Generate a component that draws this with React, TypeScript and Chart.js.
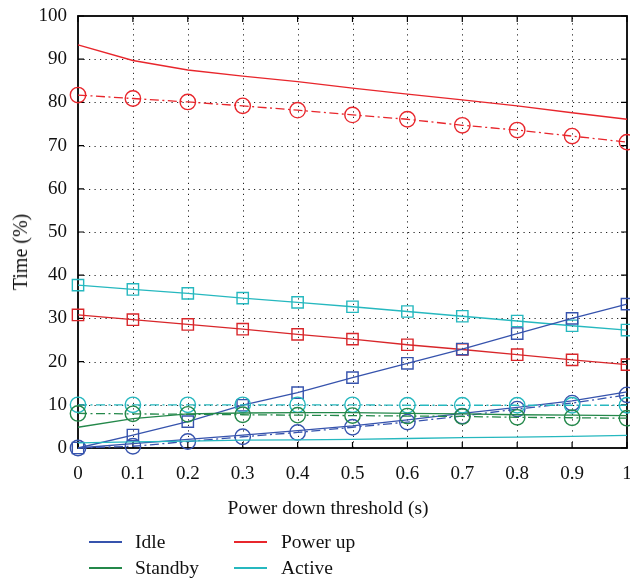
import React, { useEffect, useRef } from "react";
import { Chart, registerables } from "chart.js";

Chart.register(...registerables);

const thresholds = [0, 0.1, 0.2, 0.3, 0.4, 0.5, 0.6, 0.7, 0.8, 0.9, 1];
const xTickLabels = ["0", "0.1", "0.2", "0.3", "0.4", "0.5", "0.6", "0.7", "0.8", "0.9", "1"];
const yTickLabels = ["0", "10", "20", "30", "40", "50", "60", "70", "80", "90", "100"];

const idleSquares = [0, 3.0, 6.1, 9.9, 12.8, 16.3, 19.6, 22.9, 26.5, 30.0, 33.3];
const idleLine = [0, 1.0, 2.0, 3.0, 4.0, 5.1, 6.5, 8.0, 9.4, 10.9, 13.0];
const idleCircles = [0, 0.4, 1.5, 2.6, 3.6, 4.8, 6.0, 7.4, 9.0, 10.4, 12.3];

const standbyLine = [4.8, 6.8, 7.9, 8.1, 8.2, 8.2, 8.0, 7.9, 7.7, 7.6, 7.5];
const standbyCircles = [8.0, 7.9, 7.8, 7.7, 7.6, 7.5, 7.4, 7.3, 7.1, 7.0, 6.9];

const powerLine = [93.3, 89.7, 87.5, 86.1, 84.8, 83.3, 81.9, 80.6, 79.2, 77.6, 76.1];
const powerCircles = [81.7, 80.9, 80.1, 79.2, 78.2, 77.1, 76.1, 74.7, 73.6, 72.2, 70.8];
const powerSquares = [30.8, 29.7, 28.6, 27.5, 26.3, 25.2, 23.9, 22.8, 21.6, 20.4, 19.3];

const activeSquares = [37.7, 36.7, 35.8, 34.7, 33.7, 32.7, 31.6, 30.5, 29.4, 28.3, 27.3];
const activeLine = [1.2, 1.4, 1.6, 1.8, 1.9, 2.0, 2.2, 2.4, 2.5, 2.7, 2.9];
const activeCircles = [10, 10, 10, 10, 10, 10, 9.9, 9.9, 9.9, 9.9, 9.9];

const legendNames = ["Idle", "Power up", "Standby", "Active"];

const BLUE = "#3653ad";
const GREEN = "#24884a";
const RED = "#e8262c";
const RED_DARK = "#d8262a";
const CYAN = "#26b8bf";
const FONT = "'Liberation Serif', 'DejaVu Serif', serif";
const DASHDOT = [9, 3.5, 2, 3.5];

const pts = (arr: number[]) => thresholds.map((x, i) => ({ x, y: arr[i] }));

function ds(data: number[], color: string, style: string | false, dash: number[]) {
  return {
    data: pts(data),
    borderColor: color,
    backgroundColor: "transparent",
    borderWidth: 1.3,
    borderDash: dash,
    pointStyle: style || "circle",
    pointRadius: style ? (style === "rect" ? 8 : 7.7) : 0,
    pointBorderWidth: 1.4,
    pointBorderColor: color,
    pointBackgroundColor: "transparent",
    tension: 0,
    clip: false as any,
  };
}

const framePlugin = {
  id: "frame",
  beforeDatasetsDraw(chart: any) {
    const { ctx, chartArea: a, scales } = chart;
    const xs = scales.x;
    const ys = scales.y;
    ctx.save();
    ctx.strokeStyle = "#222";
    ctx.lineWidth = 1;
    ctx.setLineDash([1.2, 4.3]);
    thresholds.forEach((v, i) => {
      if (i === 0 || i === thresholds.length - 1) return;
      const px = Math.round(xs.getPixelForValue(v)) + 0.5;
      ctx.beginPath();
      ctx.moveTo(px, a.bottom);
      ctx.lineTo(px, a.top);
      ctx.stroke();
    });
    yTickLabels.forEach((l, i) => {
      if (i === 0 || i === yTickLabels.length - 1) return;
      const py = Math.round(ys.getPixelForValue(Number(l))) + 0.5;
      ctx.beginPath();
      ctx.moveTo(a.left, py);
      ctx.lineTo(a.right, py);
      ctx.stroke();
    });
    ctx.setLineDash([]);
    ctx.strokeStyle = "#000";
    ctx.lineWidth = 1.2;
    const t = 6;
    thresholds.forEach((v) => {
      const px = xs.getPixelForValue(v);
      ctx.beginPath();
      ctx.moveTo(px, a.bottom);
      ctx.lineTo(px, a.bottom - t);
      ctx.moveTo(px, a.top);
      ctx.lineTo(px, a.top + t);
      ctx.stroke();
    });
    yTickLabels.forEach((l) => {
      const py = ys.getPixelForValue(Number(l));
      ctx.beginPath();
      ctx.moveTo(a.left, py);
      ctx.lineTo(a.left + t, py);
      ctx.moveTo(a.right, py);
      ctx.lineTo(a.right - t, py);
      ctx.stroke();
    });
    ctx.lineWidth = 1.8;
    ctx.strokeRect(a.left, a.top, a.right - a.left, a.bottom - a.top);
    ctx.restore();
  },
};

export default function App() {
  const ref = useRef<HTMLCanvasElement>(null);
  useEffect(() => {
    if (!ref.current) return;
    const chart = new Chart(ref.current, {
      type: "line",
      data: {
        datasets: [
          ds(activeLine, CYAN, false, []),
          ds(standbyLine, GREEN, false, []),
          ds(standbyCircles, GREEN, "circle", DASHDOT),
          ds(activeCircles, CYAN, "circle", DASHDOT),
          ds(idleLine, BLUE, false, []),
          ds(idleCircles, BLUE, "circle", DASHDOT),
          ds(idleSquares, BLUE, "rect", []),
          ds(powerSquares, RED_DARK, "rect", []),
          ds(activeSquares, CYAN, "rect", []),
          ds(powerCircles, RED, "circle", DASHDOT),
          ds(powerLine, RED, false, []),
        ] as any,
      },
      options: {
        animation: false,
        responsive: false,
        maintainAspectRatio: false,
        layout: { autoPadding: false, padding: { top: 16, right: 3, left: 0, bottom: 0 } },
        plugins: { legend: { display: false }, tooltip: { enabled: false } },
        scales: {
          x: {
            type: "linear",
            min: 0,
            max: 1,
            afterBuildTicks: (s: any) => {
              s.ticks = thresholds.map((v) => ({ value: v }));
            },
            afterFit: (s: any) => {
              s.height = 131;
              s.paddingLeft = 0;
              s.paddingRight = 0;
            },
            grid: { display: false, drawTicks: false },
            border: { display: false },
            ticks: {
              padding: 15,
              color: "#111",
              font: { family: FONT, size: 19 },
              callback: (_v: any, i: number) => xTickLabels[i],
              maxRotation: 0,
              autoSkip: false,
            },
          },
          y: {
            type: "linear",
            min: 0,
            max: 100,
            afterBuildTicks: (s: any) => {
              s.ticks = yTickLabels.map((v) => ({ value: Number(v) }));
            },
            afterFit: (s: any) => {
              s.width = 78;
              s.paddingTop = 0;
              s.paddingBottom = 0;
            },
            grid: { display: false, drawTicks: false },
            border: { display: false },
            ticks: {
              padding: 11,
              color: "#111",
              font: { family: FONT, size: 19 },
              callback: (_v: any, i: number) => yTickLabels[i],
              autoSkip: false,
            },
          },
        },
      },
      plugins: [framePlugin],
    });
    return () => chart.destroy();
  }, []);

  const legendColors = [BLUE, RED, GREEN, CYAN];
  const legendPos = [
    { lx: 89, tx: 135, y: 542 },
    { lx: 234, tx: 281, y: 542 },
    { lx: 89, tx: 135, y: 568 },
    { lx: 234, tx: 281, y: 568 },
  ];

  return (
    <div style={{ position: "fixed", left: 0, top: 0, width: 630, height: 579, background: "#fff", fontFamily: FONT, color: "#111" }}>
      <canvas ref={ref} width={630} height={579} style={{ position: "absolute", left: 0, top: 0 }} />
      <div style={{ position: "absolute", left: 20, top: 252, transform: "translate(-50%, -50%) rotate(-90deg)", fontSize: 20, whiteSpace: "nowrap", lineHeight: 1 }}>
        Time (%)
      </div>
      <div style={{ position: "absolute", left: 328, top: 508, transform: "translate(-50%, -50%)", fontSize: 19.5, whiteSpace: "nowrap", lineHeight: 1 }}>
        Power down threshold (s)
      </div>
      {legendNames.map((n, i) => (
        <React.Fragment key={n}>
          <div style={{ position: "absolute", left: legendPos[i].lx, top: legendPos[i].y - 0.75, width: 33, height: 1.5, background: legendColors[i] }} />
          <div style={{ position: "absolute", left: legendPos[i].tx, top: legendPos[i].y, transform: "translateY(-50%)", fontSize: 19.5, whiteSpace: "nowrap", lineHeight: 1 }}>
            {n}
          </div>
        </React.Fragment>
      ))}
    </div>
  );
}
